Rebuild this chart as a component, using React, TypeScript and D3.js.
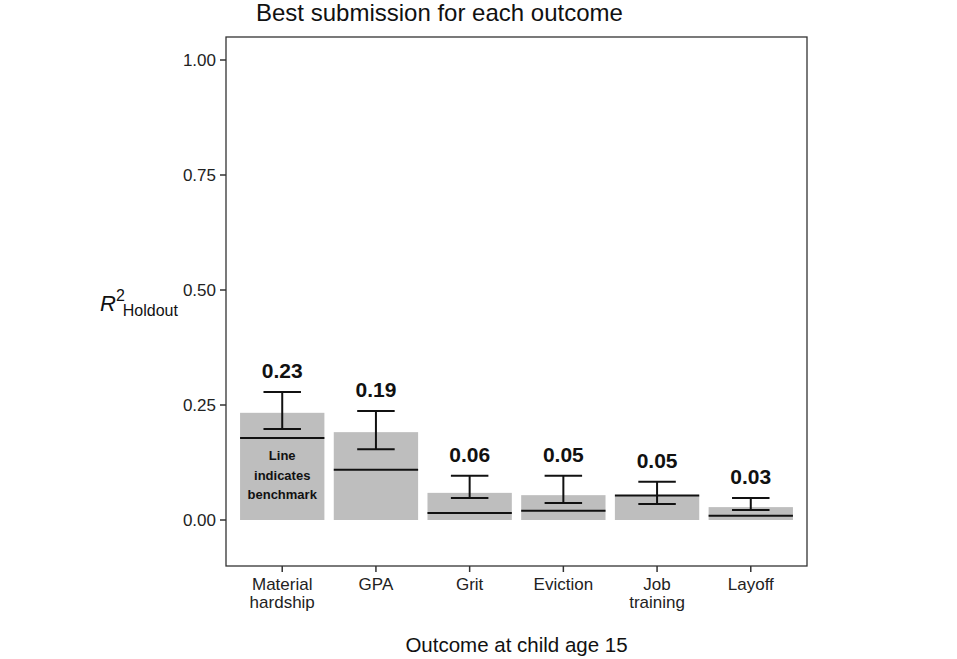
import React from 'react';
import * as d3 from 'd3';

const categories = ['Material\nhardship', 'GPA', 'Grit', 'Eviction', 'Job\ntraining', 'Layoff'];
const bestScores = [0.233, 0.191, 0.059, 0.054, 0.054, 0.028];
const scoreLabels = ['0.23', '0.19', '0.06', '0.05', '0.05', '0.03'];
const benchmarks = [0.178, 0.109, 0.015, 0.02, 0.053, 0.009];
const ciLow = [0.198, 0.154, 0.048, 0.037, 0.035, 0.022];
const ciHigh = [0.278, 0.237, 0.096, 0.096, 0.083, 0.048];
const yTicks = [0, 0.25, 0.5, 0.75, 1];

const W = 957;
const H = 659;
const panel = { left: 226, right: 807, top: 37, bottom: 566 };
const FONT = 'Liberation Sans, Arial, Helvetica, sans-serif';

export default function App() {
  const y = d3.scaleLinear().domain([-0.1, 1.05]).range([panel.bottom, panel.top]);
  const x = d3
    .scaleBand<number>()
    .domain(d3.range(categories.length))
    .range([panel.left, panel.right])
    .paddingInner(0.1)
    .paddingOuter(0.15);
  const step = x.step();
  const bw = x.bandwidth();
  const errW = step * 0.4;

  return (
    <svg width={W} height={H} style={{ position: 'absolute', left: 0, top: 0, fontFamily: FONT }}>
      <rect width={W} height={H} fill="#fff" />
      <text x={256} y={21} fontSize={24} fill="#111">
        Best submission for each outcome
      </text>

      {/* y ticks */}
      {yTicks.map((t) => (
        <g key={t}>
          <line x1={panel.left - 6} x2={panel.left} y1={y(t)} y2={y(t)} stroke="#333" strokeWidth={1.5} />
          <text x={panel.left - 10} y={y(t)} dy="0.35em" textAnchor="end" fontSize={17} fill="#222">
            {d3.format('.2f')(t)}
          </text>
        </g>
      ))}

      {/* bars */}
      {categories.map((c, i) => {
        const x0 = x(i) as number;
        const cx = x0 + bw / 2;
        return (
          <g key={c}>
            <rect x={x0} width={bw} y={y(bestScores[i])} height={y(0) - y(bestScores[i])} fill="#bebebe" />
            <line x1={x0} x2={x0 + bw} y1={y(benchmarks[i])} y2={y(benchmarks[i])} stroke="#111" strokeWidth={2} />
            <line x1={cx} x2={cx} y1={y(ciLow[i])} y2={y(ciHigh[i])} stroke="#111" strokeWidth={2} />
            <line x1={cx - errW / 2} x2={cx + errW / 2} y1={y(ciLow[i])} y2={y(ciLow[i])} stroke="#111" strokeWidth={2} />
            <line x1={cx - errW / 2} x2={cx + errW / 2} y1={y(ciHigh[i])} y2={y(ciHigh[i])} stroke="#111" strokeWidth={2} />
            <text x={cx} y={y(ciHigh[i]) - 14} textAnchor="middle" fontSize={21} fontWeight="bold" fill="#111">
              {scoreLabels[i]}
            </text>
            {/* x tick */}
            <line x1={cx} x2={cx} y1={panel.bottom} y2={panel.bottom + 6} stroke="#333" strokeWidth={1.5} />
            {c.split('\n').map((ln, k) => (
              <text key={k} x={cx} y={panel.bottom + 24 + k * 18} textAnchor="middle" fontSize={17} fill="#222">
                {ln}
              </text>
            ))}
          </g>
        );
      })}

      {/* annotation */}
      {['Line', 'indicates', 'benchmark'].map((t, k) => {
        const cx = (x(0) as number) + bw / 2;
        return (
          <text key={t} x={cx} y={460 + k * 19.5} textAnchor="middle" fontSize={13} fontWeight="bold" fill="#111">
            {t}
          </text>
        );
      })}

      <rect
        x={panel.left}
        y={panel.top}
        width={panel.right - panel.left}
        height={panel.bottom - panel.top}
        fill="none"
        stroke="#333"
        strokeWidth={1.3}
      />

      {/* y title */}
      <text x={100} y={311} fontSize={22} fill="#111">
        <tspan fontStyle="italic">R</tspan>
        <tspan dy={-10} fontSize={16}>2</tspan>
        <tspan dy={15} dx={-2} fontSize={16}>Holdout</tspan>
      </text>

      <text x={(panel.left + panel.right) / 2} y={652} textAnchor="middle" fontSize={20.5} fill="#111">
        Outcome at child age 15
      </text>
    </svg>
  );
}
